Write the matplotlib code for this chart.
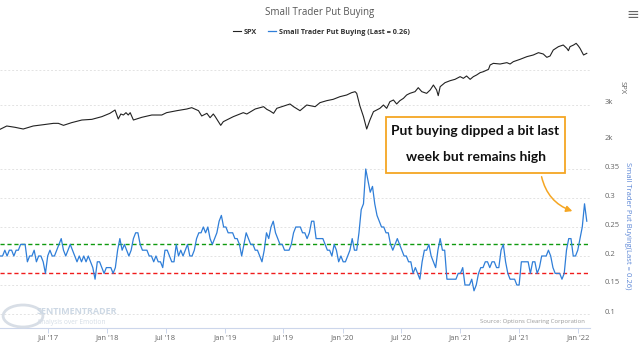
import pandas as pd
import matplotlib.pyplot as plt
import matplotlib.dates as mdates
from matplotlib.patches import Rectangle, FancyArrowPatch, Circle
from matplotlib.transforms import ScaledTranslation

plt.rcParams["font.family"] = ["Open Sans", "DejaVu Sans"]

# weekly small trader put buying ratio
put_start = "2017-02-03"
put_values = [
    0.20, 0.20, 0.21, 0.20, 0.21, 0.21, 0.20, 0.21, 0.21, 0.22,
    0.22, 0.22, 0.19, 0.20, 0.20, 0.21, 0.19, 0.20, 0.20, 0.19,
    0.17, 0.20, 0.21, 0.20, 0.20, 0.21, 0.22, 0.23, 0.21, 0.20,
    0.21, 0.22, 0.21, 0.20, 0.19, 0.20, 0.19, 0.20, 0.19, 0.20,
    0.19, 0.18, 0.16, 0.19, 0.19, 0.18, 0.17, 0.18, 0.18, 0.18,
    0.17, 0.18, 0.21, 0.23, 0.21, 0.22, 0.21, 0.20, 0.21, 0.23,
    0.24, 0.24, 0.22, 0.21, 0.21, 0.21, 0.20, 0.20, 0.19, 0.20,
    0.19, 0.19, 0.18, 0.21, 0.21, 0.20, 0.19, 0.19, 0.22, 0.20,
    0.21, 0.20, 0.21, 0.22, 0.20, 0.20, 0.21, 0.23, 0.24, 0.24,
    0.25, 0.24, 0.25, 0.23, 0.22, 0.23, 0.24, 0.26, 0.27, 0.25,
    0.25, 0.24, 0.24, 0.24, 0.23, 0.23, 0.22, 0.20, 0.22, 0.24,
    0.23, 0.22, 0.22, 0.21, 0.21, 0.20, 0.19, 0.21, 0.24, 0.23,
    0.25, 0.26, 0.24, 0.23, 0.22, 0.22, 0.21, 0.21, 0.21, 0.22,
    0.24, 0.25, 0.25, 0.25, 0.24, 0.24, 0.23, 0.24, 0.26, 0.26,
    0.23, 0.23, 0.23, 0.23, 0.22, 0.21, 0.21, 0.20, 0.22, 0.21,
    0.19, 0.20, 0.19, 0.19, 0.20, 0.21, 0.23, 0.21, 0.21, 0.24,
    0.28, 0.29, 0.35, 0.33, 0.31, 0.32, 0.29, 0.27, 0.26, 0.25,
    0.25, 0.24, 0.24, 0.22, 0.21, 0.22, 0.23, 0.22, 0.21, 0.20,
    0.20, 0.19, 0.19, 0.17, 0.18, 0.17, 0.16, 0.19, 0.21, 0.21,
    0.22, 0.20, 0.19, 0.18, 0.21, 0.23, 0.21, 0.21, 0.16, 0.16,
    0.16, 0.16, 0.16, 0.17, 0.17, 0.18, 0.15, 0.15, 0.15, 0.16,
    0.14, 0.15, 0.17, 0.18, 0.18, 0.19, 0.19, 0.18, 0.19, 0.19,
    0.18, 0.18, 0.21, 0.22, 0.19, 0.17, 0.16, 0.16, 0.16, 0.15,
    0.15, 0.19, 0.19, 0.19, 0.19, 0.17, 0.19, 0.19, 0.17, 0.18,
    0.20, 0.20, 0.20, 0.21, 0.20, 0.18, 0.17, 0.17, 0.17, 0.16,
    0.17, 0.21, 0.23, 0.23, 0.20, 0.20, 0.21, 0.23, 0.25, 0.29, 0.26,
]

spx_dates = [
    "2017-02-02", "2017-02-23", "2017-03-21", "2017-04-15", "2017-05-16",
    "2017-06-17", "2017-07-18", "2017-08-02", "2017-08-18", "2017-09-12",
    "2017-10-14", "2017-11-14", "2017-12-15", "2018-01-09", "2018-01-25",
    "2018-02-04", "2018-02-12", "2018-02-20", "2018-02-28", "2018-03-07",
    "2018-03-13", "2018-03-23", "2018-04-18", "2018-05-19", "2018-06-19",
    "2018-07-04", "2018-08-05", "2018-09-05", "2018-09-20", "2018-10-11",
    "2018-10-21", "2018-11-06", "2018-11-16", "2018-11-26", "2018-12-02",
    "2018-12-19", "2018-12-27", "2019-01-27", "2019-02-27", "2019-03-10",
    "2019-04-05", "2019-05-01", "2019-05-11", "2019-05-21", "2019-06-01",
    "2019-06-11", "2019-07-22", "2019-08-02", "2019-08-22", "2019-09-12",
    "2019-10-08", "2019-10-23", "2019-11-13", "2019-12-03", "2019-12-24",
    "2020-01-14", "2020-01-29", "2020-02-09", "2020-02-14", "2020-02-24",
    "2020-03-06", "2020-03-16", "2020-03-26", "2020-04-06", "2020-04-16",
    "2020-04-26", "2020-05-07", "2020-05-17", "2020-05-27", "2020-06-07",
    "2020-06-17", "2020-06-27", "2020-07-08", "2020-07-18", "2020-07-28",
    "2020-08-13", "2020-08-23", "2020-09-03", "2020-09-18", "2020-09-29",
    "2020-10-09", "2020-10-19", "2020-10-24", "2020-10-30", "2020-11-14",
    "2020-11-30", "2020-12-15", "2020-12-31", "2021-01-10", "2021-01-20",
    "2021-01-31", "2021-02-10", "2021-02-20", "2021-03-03", "2021-03-13",
    "2021-03-29", "2021-04-03", "2021-04-13", "2021-05-04", "2021-05-14",
    "2021-05-25", "2021-06-04", "2021-06-14", "2021-07-05", "2021-07-26",
    "2021-08-15", "2021-08-31", "2021-09-15", "2021-09-26", "2021-10-06",
    "2021-10-16", "2021-11-01", "2021-11-16", "2021-11-27", "2021-12-02",
    "2021-12-07", "2021-12-18", "2021-12-26", "2022-01-02", "2022-01-07",
    "2022-01-18", "2022-01-28",
]
spx_values = [
    2305, 2400, 2362, 2314, 2400, 2438, 2476, 2476, 2419, 2495,
    2571, 2590, 2667, 2762, 2857, 2600, 2743, 2714, 2781, 2714,
    2781, 2571, 2648, 2714, 2714, 2781, 2838, 2886, 2924, 2838,
    2686, 2762, 2638, 2743, 2667, 2419, 2524, 2667, 2781, 2743,
    2886, 2952, 2876, 2829, 2762, 2905, 3029, 2952, 2838, 3000,
    2952, 3067, 3124, 3162, 3238, 3286, 3352, 3381, 3333, 2971,
    2667, 2314, 2571, 2810, 2857, 2905, 3000, 2905, 3095, 3143,
    3029, 3124, 3190, 3286, 3333, 3381, 3495, 3381, 3333, 3429,
    3571, 3429, 3267, 3524, 3638, 3695, 3733, 3810, 3762, 3829,
    3733, 3810, 3857, 3924, 3952, 4019, 4143, 4190, 4171, 4190,
    4210, 4171, 4238, 4305, 4381, 4429, 4495, 4457, 4362, 4400,
    4571, 4667, 4714, 4619, 4552, 4667, 4714, 4762, 4686, 4619,
    4429, 4476,
]

high_level = 0.22
low_level = 0.17
put_ticks = [0.1, 0.15, 0.2, 0.25, 0.3, 0.35]
spx_ticks = [2000, 3000, 4000]
spx_tick_labels = ["2k", "3k", ""]

put_dates = pd.date_range(put_start, periods=len(put_values), freq="7D")
spx_dates = pd.to_datetime(spx_dates)
last_value = put_values[-1]

W, H = 640, 354
blue = "#2f7ed8"
grid_color = "#e3e3e3"
label_color = "#666666"


def px_rect(x0, y0, x1, y1):
    return [x0 / W, 1 - y1 / H, (x1 - x0) / W, (y1 - y0) / H]


def fx(x):
    return x / W


def fy(y):
    return 1 - y / H


fig = plt.figure(figsize=(W / 100, H / 100), dpi=100)
ax_put = fig.add_axes(px_rect(0, 140, 590, 328))
ax_spx = fig.add_axes(px_rect(0, 40, 590, 140), sharex=ax_put)

lift = ScaledTranslation(0, 3 / 100, fig.dpi_scale_trans)

# lower panel
put_line, = ax_put.plot(put_dates, put_values, color=blue, lw=0.9, zorder=3)
ax_put.axhline(high_level, color="#0f9a0f", lw=1.0, ls=(0, (3, 2)), zorder=2)
ax_put.axhline(low_level, color="#f01c1c", lw=1.0, ls=(0, (3, 2)), zorder=2)
ax_put.set_ylim(0.1 - 14 / 580, 0.4)
ax_put.set_yticks(put_ticks)
ax_put.set_yticklabels([f"{t:g}" for t in put_ticks])
ax_put.yaxis.tick_right()
ax_put.tick_params(axis="y", length=0, pad=10.8, labelsize=5.5, labelcolor=label_color)
for lab in ax_put.get_yticklabels():
    lab.set_transform(lab.get_transform() + lift)
ax_put.grid(axis="y", color=grid_color, lw=0.7, ls=(0, (2, 2)))

ax_put.set_xlim(pd.Timestamp("2017-02-02"), pd.Timestamp("2022-02-07"))
ax_put.xaxis.set_major_locator(mdates.MonthLocator(bymonth=[1, 7]))
ax_put.xaxis.set_major_formatter(mdates.DateFormatter("%b '%y"))
ax_put.tick_params(axis="x", length=3.6, width=0.7, color="#ccd6eb",
                   labelsize=5.5, labelcolor=label_color, pad=1)
for side in ["top", "left", "right"]:
    ax_put.spines[side].set_visible(False)
ax_put.spines["bottom"].set_color("#ccd6eb")
ax_put.spines["bottom"].set_linewidth(0.8)
ax_put.patch.set_alpha(0)

# upper panel
spx_line, = ax_spx.plot(spx_dates, spx_values, color="#222222", lw=0.8)
ax_spx.set_ylim(2000, 2000 + 100 / 35 * 1000)
ax_spx.set_yticks(spx_ticks)
ax_spx.set_yticklabels(spx_tick_labels)
ax_spx.yaxis.tick_right()
ax_spx.tick_params(axis="y", length=0, pad=10.8, labelsize=5.5, labelcolor=label_color)
for lab in ax_spx.get_yticklabels():
    lab.set_transform(lab.get_transform() + lift)
ax_spx.tick_params(axis="x", bottom=False, labelbottom=False)
ax_spx.grid(axis="y", color=grid_color, lw=0.7, ls=(0, (2, 2)))
for side in ax_spx.spines:
    ax_spx.spines[side].set_visible(False)
ax_spx.patch.set_alpha(0)

# titles and legend
fig.text(0.5, fy(13), "Small Trader Put Buying", ha="center", va="center",
         fontsize=7, color="#555555")
fig.text(fx(633), fy(14), "\u2261", ha="center", va="center", fontsize=11,
         color="#666666", family="DejaVu Sans")
fig.legend([spx_line, put_line],
           ["SPX", f"Small Trader Put Buying (Last = {last_value:.2f})"],
           loc="center", bbox_to_anchor=(0.502, fy(32)), ncol=2, frameon=False,
           handlelength=1.1, handletextpad=0.4, columnspacing=1.6,
           prop={"size": 5.2, "weight": "bold"}, labelcolor="#333333")
fig.text(fx(622), fy(88), "SPX", rotation=270, ha="center", va="center",
         fontsize=5.5, color=label_color)
fig.text(fx(627), fy(226), f"Small Trader Put Buying(Last = {last_value:.2f})",
         rotation=270, ha="center", va="center", fontsize=5.5, color="#5b86d6")

# annotation box and arrow
fig.add_artist(Rectangle((fx(386), fy(173)), fx(179), 56 / H,
                         transform=fig.transFigure, facecolor="white",
                         edgecolor="#f5a623", lw=1.3, zorder=5))
fig.text(fx(475.5), fy(131), "Put buying dipped a bit last", ha="center",
         va="center", fontsize=10, weight="bold", color="#111111", zorder=6,
         family="Lato")
fig.text(fx(475.5), fy(157), "week but remains high", ha="center",
         va="center", fontsize=10, weight="bold", color="#111111", zorder=6,
         family="Lato")
fig.add_artist(FancyArrowPatch((fx(541), fy(174)), (fx(575), fy(212)),
                               transform=fig.transFigure,
                               connectionstyle="arc3,rad=0.3",
                               arrowstyle="-|>", mutation_scale=9,
                               color="#f5a623", lw=1.1, zorder=6))

# watermark and source
fig.add_artist(Circle((fx(23), fy(316)), 11 / H, transform=fig.transFigure,
                      fill=False, edgecolor="#d8dee6", lw=2.0, zorder=1))
fig.text(fx(37), fy(311), "SENTIMENTRADER", ha="left", va="center",
         fontsize=6.5, weight="bold", color="#cdd8e4")
fig.text(fx(37), fy(322), "Analysis over Emotion", ha="left", va="center",
         fontsize=4.8, color="#d5dde6")
fig.text(fx(585), fy(321), "Source: Options Clearing Corporation", ha="right",
         va="center", fontsize=4.3, color="#999999")

fig.savefig("out.png", dpi=100)
